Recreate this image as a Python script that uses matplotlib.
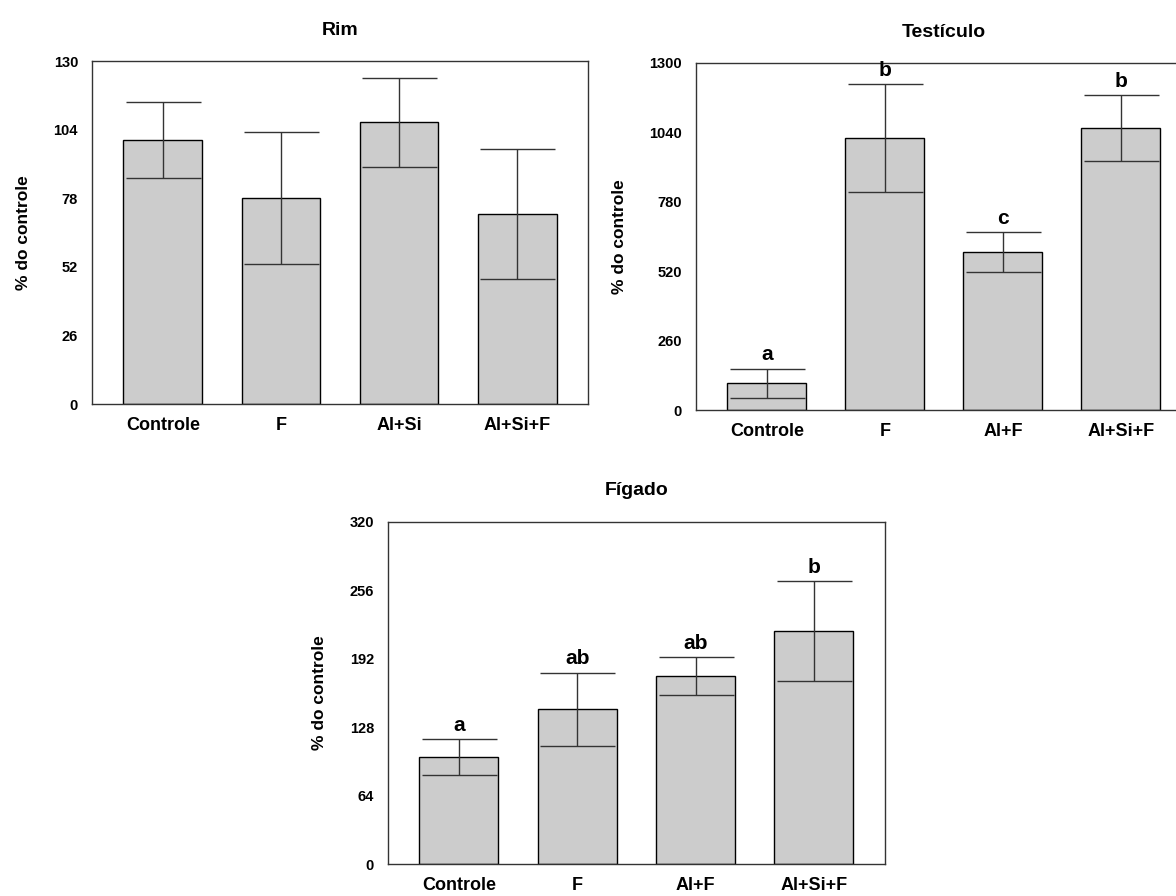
import matplotlib.pyplot as plt
import numpy as np

plt.rcParams['font.family'] = ['Liberation Sans', 'DejaVu Sans']
plt.rcParams['font.weight'] = 'bold'

# Rim
rim_groups = ["Controle", "F", "Al+Si", "Al+Si+F"]
rim_mean = [100, 78, 106.7, 72]
rim_err = [14.5, 25, 17, 24.7]

# Testículo
tes_groups = ["Controle", "F", "Al+F", "Al+Si+F"]
tes_mean = [100, 1019, 592, 1056]
tes_err = [55, 202, 74, 124]
tes_letters = ["a", "b", "c", "b"]

# Fígado
fig_groups = ["Controle", "F", "Al+F", "Al+Si+F"]
fig_mean = [100, 144.6, 175.7, 218]
fig_err = [17, 34.5, 17.7, 47]
fig_letters = ["a", "ab", "ab", "b"]


def panel(ax, title, groups, mean, err, ymax, letters=None):
    x = np.arange(len(groups))
    ax.bar(x, mean, width=0.667, color='#cccccc', edgecolor='black', linewidth=1, zorder=2)
    ax.errorbar(x, mean, yerr=err, fmt='none', ecolor='#333333', elinewidth=1,
                capsize=27, capthick=1, zorder=3)
    ax.set_xlim(-0.6, 3.6)
    ax.set_ylim(0, ymax)
    ax.set_yticks(np.linspace(0, ymax, 6))
    ax.set_xticks(x)
    ax.set_xticklabels(groups, fontsize=13, fontweight='bold')
    ax.tick_params(axis='y', length=0, pad=10, labelsize=10.5)
    ax.tick_params(axis='x', length=0, pad=9)
    ax.set_ylabel("% do controle", fontsize=12.5, fontweight='bold', labelpad=16)
    ax.set_title(title, fontsize=14, fontweight='bold', pad=19)
    for s in ax.spines.values():
        s.set_color('#333333')
        s.set_linewidth(1)
    if letters:
        for xi, m, e, t in zip(x, mean, err, letters):
            ax.text(xi, m + e + ymax * 0.012, t, ha='center', va='bottom',
                    fontsize=15, fontweight='bold')


fig = plt.figure(figsize=(11.76, 8.96), dpi=100)
ax1 = fig.add_axes([0.0782, 0.5491, 0.4218, 0.3828])
ax2 = fig.add_axes([0.5918, 0.5424, 0.4215, 0.3873])
ax3 = fig.add_axes([0.3299, 0.0354, 0.4226, 0.3823])

panel(ax1, "Rim", rim_groups, rim_mean, rim_err, 130)
panel(ax2, "Testículo", tes_groups, tes_mean, tes_err, 1300, tes_letters)
panel(ax3, "Fígado", fig_groups, fig_mean, fig_err, 320, fig_letters)

fig.savefig("out.png", dpi=100)
